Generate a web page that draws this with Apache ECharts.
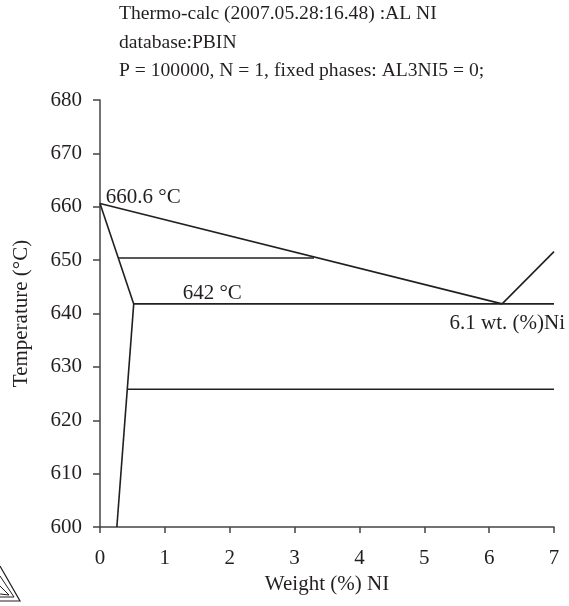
<!DOCTYPE html>
<html>
<head>
<meta charset="utf-8">
<script src="https://cdn.jsdelivr.net/npm/echarts@6/dist/echarts.min.js"></script>
<style>
  html, body { margin: 0; padding: 0; background: #fff; }
  #chart { width: 569px; height: 606px; }
</style>
</head>
<body>
<div id="chart"></div>
<script>
// Al–Ni phase diagram (Al-rich corner), Thermo-calc output
const titleLines = [
  'Thermo-calc (2007.05.28:16.48) :AL NI',
  'database:PBIN',
  'P = 100000, N = 1, fixed phases: AL3NI5 = 0;'
];
const xTicks = [0, 1, 2, 3, 4, 5, 6, 7];
const yTicks = [600, 610, 620, 630, 640, 650, 660, 670, 680];

// phase boundaries: [wt.% Ni, °C]
const liquidusAl = [[0, 660.6], [6.2, 641.8]];
const liquidusNi = [[6.2, 641.8], [7.0, 651.6]];
const solidus = [[0, 660.6], [0.52, 641.8]];
const solvus = [[0.52, 641.8], [0.26, 600]];
const tieLine650 = [[0.28, 650.4], [3.3, 650.4]];
const eutecticLine = [[0.52, 641.8], [7.0, 641.8]];
const isotherm626 = [[0.43, 625.8], [7.0, 625.8]];

const meltingPoint = 660.6;
const eutecticTemp = 642;
const eutecticComp = 6.1;

const serif = '"Liberation Serif", "DejaVu Serif", serif';
const ink = '#231f20';

const boundaries = [liquidusAl, liquidusNi, solidus, solvus, tieLine650, eutecticLine, isotherm626];

const chart = echarts.init(document.getElementById('chart'), null, { renderer: 'canvas' });

const lineSeries = boundaries.map(pts => ({
  type: 'line',
  data: pts,
  symbol: 'none',
  silent: true,
  lineStyle: { color: ink, width: 1.6 },
  z: 3
}));

const notes = {
  type: 'scatter',
  symbolSize: 0,
  silent: true,
  itemStyle: { color: ink, opacity: 1 },
  data: [
    { value: [0.09, 661.8], text: meltingPoint.toFixed(1) + ' °C', align: 'left' },
    { value: [1.73, 643.7], text: eutecticTemp + ' °C', align: 'center' },
    { value: [5.39, 638.1], text: eutecticComp + ' wt. (%)Ni', align: 'left' }
  ].map(d => ({
    value: d.value,
    label: {
      show: true,
      position: [0, 0],
      formatter: d.text,
      align: d.align,
      verticalAlign: 'middle',
      fontFamily: serif,
      fontSize: 21,
      color: ink,
      textBorderWidth: 0,
      opacity: 1
    }
  }))
};

const option = {
  animation: false,
  backgroundColor: '#fff',
  grid: { left: 100, right: 15, top: 100, bottom: 79, containLabel: false },
  xAxis: {
    type: 'value',
    min: 0, max: 7, interval: 1,
    name: 'Weight (%) NI',
    nameLocation: 'middle',
    nameGap: 40,
    nameTextStyle: { fontFamily: serif, fontSize: 21, color: ink },
    axisLine: { show: true, lineStyle: { color: '#444', width: 1.5 } },
    axisTick: { show: true, length: 6, lineStyle: { color: '#444', width: 1.5 } },
    axisLabel: { fontFamily: serif, fontSize: 21, color: ink, margin: 21,
      formatter: v => xTicks.includes(v) ? String(v) : '' },
    splitLine: { show: false }
  },
  yAxis: {
    type: 'value',
    min: 600, max: 680, interval: 10,
    name: 'Temperature (°C)',
    nameLocation: 'middle',
    nameGap: 68,
    nameTextStyle: { fontFamily: serif, fontSize: 21, color: ink },
    axisLine: { show: true, lineStyle: { color: '#444', width: 1.5 } },
    axisTick: { show: true, length: 7, lineStyle: { color: '#444', width: 1.5 } },
    axisLabel: { fontFamily: serif, fontSize: 21, color: ink, margin: 18,
      formatter: v => yTicks.includes(v) ? String(v) : '' },
    splitLine: { show: false }
  },
  graphic: [
    ...titleLines.map((t, i) => ({
      type: 'text',
      left: 119,
      top: 4 + i * 28.5,
      style: { text: t, font: '19.6px ' + serif, fill: ink }
    })),
    // publisher mark in the lower-left corner
    { type: 'polyline', shape: { points: [[0, 566], [20, 601], [0, 601]] },
      style: { stroke: ink, lineWidth: 1.2, fill: 'none' } },
    { type: 'polyline', shape: { points: [[0, 576], [14, 597], [0, 597]] },
      style: { stroke: ink, lineWidth: 1, fill: 'none' } },
    { type: 'polyline', shape: { points: [[0, 586], [9, 595], [0, 594]] },
      style: { stroke: ink, lineWidth: 1, fill: 'none' } }
  ],
  series: [...lineSeries, notes]
};

chart.setOption(option);
</script>
</body>
</html>
